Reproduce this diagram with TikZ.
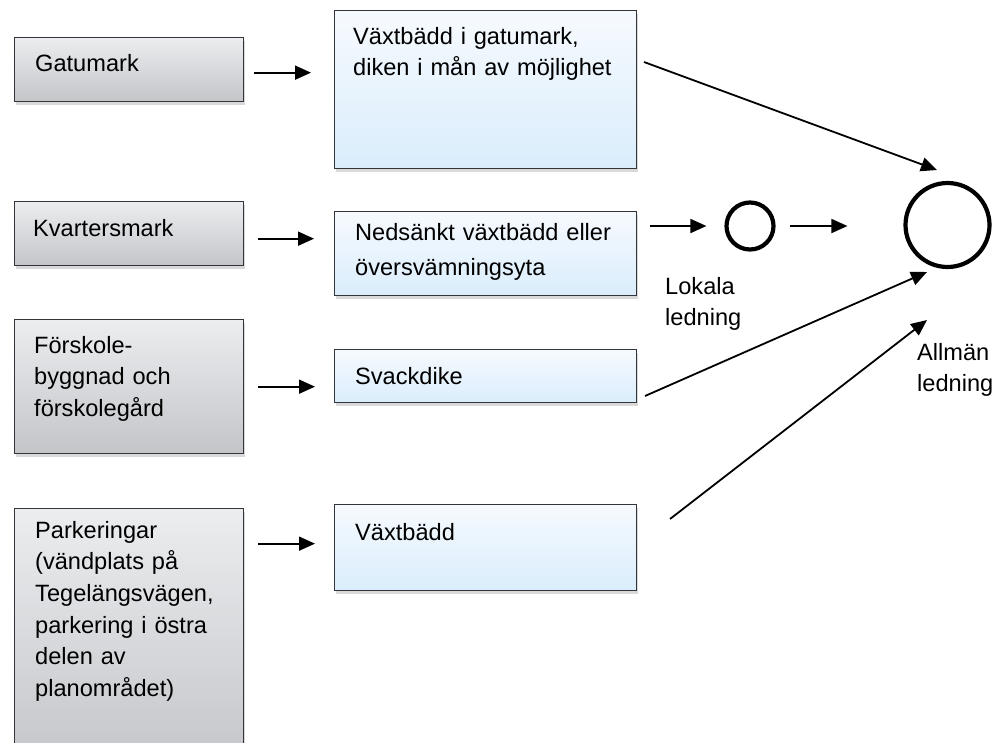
\documentclass[tikz,border=0pt]{standalone}
\usepackage{fontspec}
\setmainfont{Liberation Sans}
\usetikzlibrary{arrows.meta,shadows,positioning}

\definecolor{boxline}{RGB}{50,54,58}
\definecolor{graytop}{RGB}{236,237,239}
\definecolor{graybot}{RGB}{195,197,201}
\definecolor{bluetop}{RGB}{246,250,254}
\definecolor{bluebot}{RGB}{218,237,252}

\tikzset{
  box/.style={rectangle, draw=boxline, line width=1.3pt, inner sep=0pt, anchor=north west,
    drop shadow={shadow xshift=1pt, shadow yshift=-3pt, opacity=0.3}},
  graybox/.style={box, top color=graytop, bottom color=graybot, minimum width=229pt},
  bluebox/.style={box, top color=bluetop, bottom color=bluebot, minimum width=302pt},
  txt/.style={font=\fontsize{23.6}{31.7}\selectfont, align=left, text width=320pt,
    inner sep=0pt, anchor=base west},
  flow/.style={line width=1.8pt, -{Triangle[length=16pt,width=14pt]}},
  pipe/.style={circle, draw, line width=4.2pt, inner sep=0pt}
}

\begin{document}
\begin{tikzpicture}[x=1pt,y=-1pt]
  \useasboundingbox (0,0) rectangle (1008,742);

  % ytor
  \node[graybox, minimum height=64pt]  (gatumark)  at (14,37)  {};
  \node[graybox, minimum height=64pt]  (kvarter)   at (14,201) {};
  \node[graybox, minimum height=134pt] (forskola)  at (14,319) {};
  \node[graybox, minimum height=260pt] (parkering) at (14,508) {};

  % åtgärder
  \node[bluebox, minimum height=158pt] (gatubadd)  at (334,10)  {};
  \node[bluebox, minimum height=84pt]  (nedsankt)  at (334,211) {};
  \node[bluebox, minimum height=53pt]  (svackdike) at (334,349) {};
  \node[bluebox, minimum height=86pt]  (vaxtbadd)  at (334,504) {};

  % texter
  \node[txt] (gatumark-t)  at ([shift={(21,34)}]gatumark.north west)  {Gatumark};
  \node[txt] (kvarter-t)   at ([shift={(19,35)}]kvarter.north west)   {Kvartersmark};
  \node[txt] (forskola-t)  at ([shift={(20,34)}]forskola.north west)  {Förskole-\\byggnad och\\förskolegård};
  \node[txt] (parkering-t) at ([shift={(21,30)}]parkering.north west) {Parkeringar\\(vändplats på\\Tegelängsvägen,\\parkering i östra\\delen av\\planområdet)};
  \node[txt] (gatubadd-t)  at ([shift={(19,34)}]gatubadd.north west)  {Växtbädd i gatumark,\\diken i mån av möjlighet};
  \node[txt, font=\fontsize{23.6}{35}\selectfont] (nedsankt-t) at ([shift={(21,29)}]nedsankt.north west) {Nedsänkt växtbädd eller\\översvämningsyta};
  \node[txt] (svackdike-t) at ([shift={(21,35)}]svackdike.north west) {Svackdike};
  \node[txt] (vaxtbadd-t)  at ([shift={(21,36)}]vaxtbadd.north west)  {Växtbädd};

  % ledningar
  \node[pipe, minimum size=47pt] (lokal)  at (750,226)   {};
  \node[pipe, minimum size=84pt] (allman) at (947.5,225) {};
  \node[txt] (lokal-t)  at (665,294) {Lokala\\ledning};
  \node[txt] (allman-t) at (917,360) {Allmän\\ledning};

  % pilar
  \draw[flow, shorten <=10pt, shorten >=23pt] ([yshift=-3pt]gatumark.east) -- ([yshift=-3pt]gatumark.east -| gatubadd.west);
  \draw[flow, shorten <=14pt, shorten >=20pt] ([yshift=-5pt]kvarter.east) -- ([yshift=-5pt]kvarter.east -| nedsankt.west);
  \draw[flow, shorten <=14pt, shorten >=19pt] (forskola.east) -- (forskola.east -| svackdike.west);
  \draw[flow, shorten <=14pt, shorten >=19pt] ([yshift=4pt]vaxtbadd.west -| parkering.east) -- ([yshift=4pt]vaxtbadd.west);

  \draw[flow, shorten <=13pt, shorten >=18pt] (nedsankt.east |- lokal.west) -- (lokal.west);
  \draw[flow, shorten <=14pt, shorten >=56pt] (lokal.east) -- (lokal.east -| allman.west);

  \coordinate (a-ut) at (644,62);  \coordinate (a-in) at (937,170);
  \coordinate (b-ut) at (645,396); \coordinate (b-in) at (927,272);
  \coordinate (c-ut) at (670,519); \coordinate (c-in) at (927,320);
  \draw[flow] (a-ut) -- (a-in);
  \draw[flow] (b-ut) -- (b-in);
  \draw[flow] (c-ut) -- (c-in);

\end{tikzpicture}
\end{document}
